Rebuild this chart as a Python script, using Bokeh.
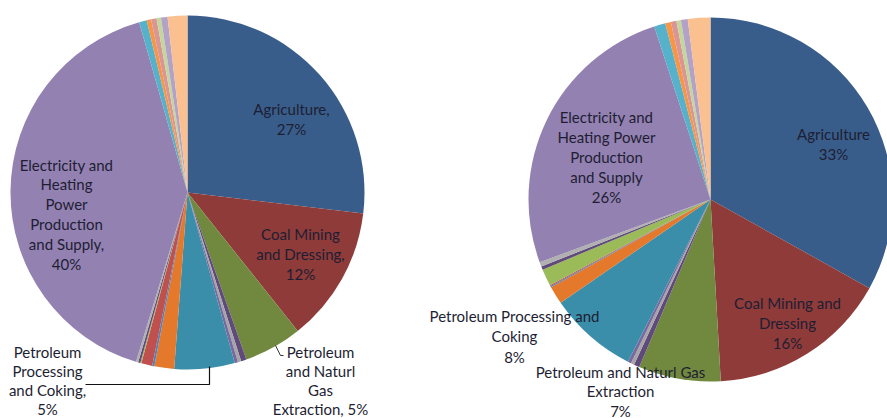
import numpy as np
from bokeh.plotting import figure
from bokeh.models import Range1d, Label, ColumnDataSource
from bokeh.embed import file_html
from bokeh.resources import INLINE

# ---------------- data ----------------
categories = [
    "Agriculture", "Coal Mining and Dressing", "Petroleum and Naturl Gas Extraction",
    "Other 1", "Other 2", "Other 3",
    "Petroleum Processing and Coking",
    "Other 4", "Other 5", "Other 6", "Other 7", "Other 8", "Other 9",
    "Electricity and Heating Power Production and Supply",
    "Other 10", "Other 11", "Other 12", "Other 13", "Other 14", "Other 15",
]
left_values = [26.9, 12.4, 5.3, 0.5, 0.3, 0.3, 5.5, 1.8, 0.2, 1.0, 0.1, 0.2, 0.2,
               40.9, 0.7, 0.4, 0.5, 0.4, 0.6, 1.8]
right_values = [33.1, 16.0, 7.3, 0.5, 0.3, 0.3, 7.9, 1.6, 0.1, 0.1, 1.5, 0.3, 0.4,
                25.6, 1.0, 0.5, 0.5, 0.4, 0.6, 2.0]
colors = ["#385D8A", "#8E3B39", "#71893F", "#604A7B", "#A5A5A5", "#7A68A0",
          "#3A8EAA", "#E4792B", "#4F81BD", "#C0504D", "#9BBB59", "#604A7B",
          "#B0B0B0", "#9381B2", "#56B1CB", "#F79646", "#D99694", "#C3D69B",
          "#B3A2C7", "#FAC090"]

left_labels = [
    (["Agriculture,", "27%"], 291, 108, 20),
    (["Coal Mining", "and Dressing,", "12%"], 300, 233, 20),
    (["Electricity and", "Heating", "Power", "Production", "and Supply,", "40%"], 66, 164, 19.8),
    (["Petroleum", "Processing", "and Coking,", "5%"], 47, 351, 19.3),
    (["Petroleum", "and Naturl", "Gas", "Extraction, 5%"], 320, 351, 19.3),
]
right_labels = [
    (["Agriculture", "33%"], 833, 133, 20),
    (["Electricity and", "Heating Power", "Production", "and Supply", "26%"], 606, 116, 20.2),
    (["Coal Mining and", "Dressing", "16%"], 787, 302, 20),
    (["Petroleum Processing and", "Coking", "8%"], 514, 315, 20.5),
    (["Petroleum and Naturl Gas", "Extraction", "7%"], 620, 371, 19.5),
]

W, H = 887, 418  # image coordinate system
p = figure(width=W, height=H, output_backend="svg", toolbar_location=None,
           x_range=Range1d(0, W), y_range=Range1d(0, H),
           min_border=0, min_border_left=0, min_border_right=0,
           min_border_top=0, min_border_bottom=0)
p.axis.visible = False
p.grid.visible = False
p.outline_line_color = None
p.background_fill_color = "white"
p.border_fill_color = "white"


def Y(y):
    return H - y


def draw_pie(values, cx, cy, r):
    v = np.array(values, dtype=float)
    frac = v / v.sum()
    cum = np.cumsum(frac)
    start = np.concatenate([[0.0], cum[:-1]])
    src = ColumnDataSource(dict(
        start=np.pi / 2 - cum * 2 * np.pi,
        end=np.pi / 2 - start * 2 * np.pi,
        color=colors, name=categories,
    ))
    p.wedge(x=cx, y=Y(cy), radius=r, start_angle="start", end_angle="end",
            fill_color="color", line_color=None, source=src)


draw_pie(left_values, 187, 192, 177)
draw_pie(right_values, 710, 199, 182)

TEXT_COLOR = "#1E1E33"


def add_text(groups):
    for lines, cx, y0, sp in groups:
        for i, t in enumerate(lines):
            p.add_layout(Label(x=cx, y=Y(y0 + i * sp), text=t, text_align="center",
                               text_baseline="middle", text_font="Lato",
                               text_font_size="15px", text_color=TEXT_COLOR))


add_text(left_labels)
add_text(right_labels)

# leader lines
p.line([209, 209, 85], [Y(366), Y(384), Y(384)], line_color="#111111", line_width=1.2)
p.line([275, 280, 283], [Y(345), Y(355), Y(355)], line_color="#333333", line_width=1)

open("out.html", "w").write(file_html(p, INLINE))
